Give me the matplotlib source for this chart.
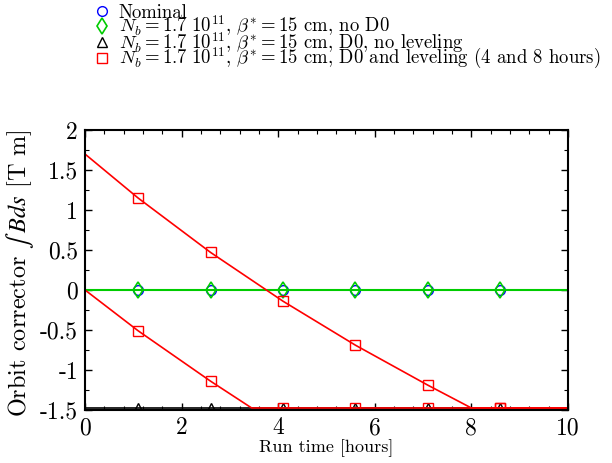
import matplotlib
matplotlib.use("Agg")
import matplotlib.pyplot as plt
from matplotlib.lines import Line2D
from matplotlib.ticker import MultipleLocator

plt.rcParams['font.family'] = ['cmr10', 'DejaVu Serif']
plt.rcParams['mathtext.fontset'] = 'cm'
plt.rcParams['axes.unicode_minus'] = False

# marker positions (hours)
t_mark = [1.1, 2.6, 4.1, 5.6, 7.1, 8.6]
floor = -1.475

# nominal and no-D0 cases stay at zero
nom_t = [0, 10]
nom_v = [0, 0]
nom_mark = [0, 0, 0, 0, 0, 0]
nod0_mark = [0, 0, 0, 0, 0, 0]

# D0, no leveling: saturated at the floor
nolev_t = [0, 10]
nolev_v = [floor, floor]
nolev_mark = [floor] * 6

# D0 and leveling, first fill (starts at 0)
lev1_t = [0, 1.1, 2.6, 3.45, 10]
lev1_v = [0, -0.51, -1.14, floor, floor]
lev1_mark = [-0.51, -1.14, floor, floor, floor, floor]

# D0 and leveling, second fill (starts at 1.7)
lev2_t = [0, 1.1, 2.6, 4.1, 5.6, 7.1, 8.0, 10]
lev2_v = [1.7, 1.15, 0.47, -0.14, -0.69, -1.19, floor, floor]
lev2_mark = [1.15, 0.47, -0.14, -0.69, -1.19, floor]

green = '#00cc00'

fig = plt.figure(figsize=(6.12, 4.63), dpi=100)
ax = fig.add_axes([0.139, 0.1145, 0.789, 0.6045])

ax.plot(nom_t, nom_v, color='b', lw=1.2)
ax.plot(t_mark, nom_mark, 'o', mfc='none', mec='b', ms=7)
ax.plot(nolev_t, nolev_v, color='k', lw=1.2)
ax.plot(t_mark, nolev_mark, '^', mfc='none', mec='k', ms=7)
ax.plot(nom_t, nom_v, color=green, lw=1.5)
ax.plot(t_mark, nod0_mark, 'd', mfc='none', mec=green, ms=8, mew=1.2)
ax.plot(lev1_t, lev1_v, color='r', lw=1.2)
ax.plot(lev2_t, lev2_v, color='r', lw=1.2)
ax.plot(t_mark, lev1_mark, 's', mfc='none', mec='r', ms=7)
ax.plot(t_mark, lev2_mark, 's', mfc='none', mec='r', ms=7)

ax.set_xlim(0, 10)
ax.set_ylim(-1.5, 2)
ax.set_xticks([0, 2, 4, 6, 8, 10])
ax.set_xticklabels(['0', '2', '4', '6', '8', '10'])
ax.set_yticks([-1.5, -1, -0.5, 0, 0.5, 1, 1.5, 2])
ax.set_yticklabels(['-1.5', '-1', '-0.5', '0', '0.5', '1', '1.5', '2'])
ax.xaxis.set_minor_locator(MultipleLocator(0.4))
ax.yaxis.set_minor_locator(MultipleLocator(0.25))
ax.tick_params(which='both', direction='in', top=True, right=True, labelsize=17, pad=5)
ax.tick_params(which='major', length=5, width=1)
ax.tick_params(which='minor', length=3, width=0.8)
for s in ax.spines.values():
    s.set_linewidth(1.5)

ax.set_xlabel('Run time [hours]', fontsize=13, labelpad=0)
ax.set_ylabel(r'Orbit corrector $\int\;Bds$ [T m]', fontsize=17.5,
              math_fontfamily='stix')
ax.yaxis.set_label_coords(-0.102, 0.49)

handles = [
    Line2D([], [], ls='none', marker='o', mfc='none', mec='b', ms=7),
    Line2D([], [], ls='none', marker='d', mfc='none', mec=green, ms=8, mew=1.2),
    Line2D([], [], ls='none', marker='^', mfc='none', mec='k', ms=7),
    Line2D([], [], ls='none', marker='s', mfc='none', mec='r', ms=7),
]
labels = [
    'Nominal',
    r'$N_b = 1.7\ 10^{11}$, $\beta^{*} = 15$ cm, no D0',
    r'$N_b = 1.7\ 10^{11}$, $\beta^{*} = 15$ cm, D0, no leveling',
    r'$N_b = 1.7\ 10^{11}$, $\beta^{*} = 15$ cm, D0 and leveling (4 and 8 hours)',
]
fig.legend(handles, labels, loc='upper left', bbox_to_anchor=(0.13, 1.02),
           frameon=False, fontsize=13.5, handlelength=1.0, handletextpad=0.4,
           labelspacing=-0.45, borderpad=0.2)

fig.savefig('out.png', dpi=100)
